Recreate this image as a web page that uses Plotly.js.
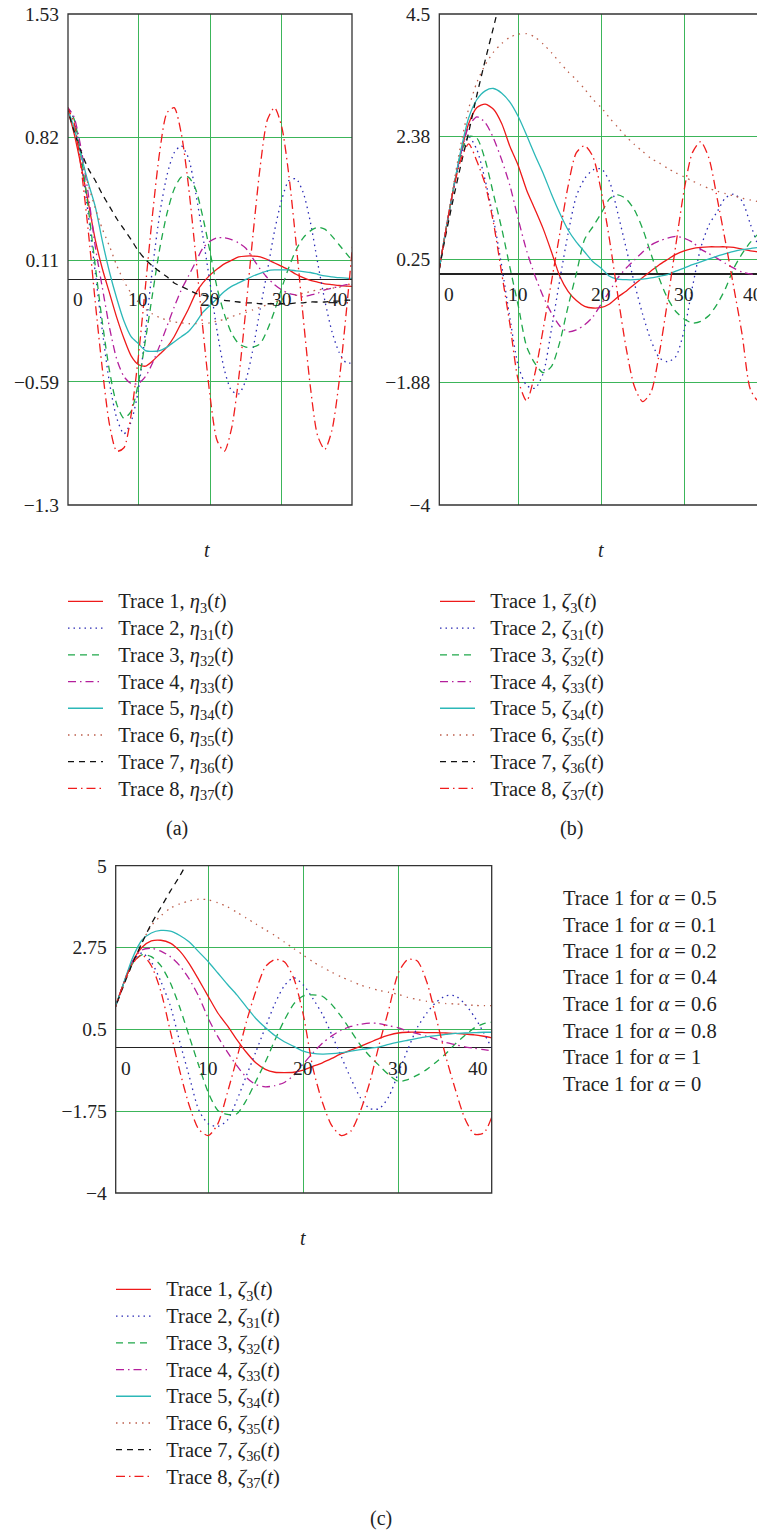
<!DOCTYPE html>
<html>
<head>
<meta charset="utf-8">
<script src="https://cdn.plot.ly/plotly-3.0.1.min.js"></script>
<style>
html,body{margin:0;padding:0;overflow:hidden;background:#fff;}
#chart{width:790px;height:1532px;}
</style>
</head>
<body>
<div id="chart"></div>
<script>
// time samples
const T = [0,1,2,3,4,5,6,7,8,9,10,11,12,13,14,15,16,17,18,19,20,21,22,23,24,25,26,27,28,29,30,31,32,33,34,35,36,37,38,39,40];

// subscripts used in the legends
const subs = ['3','31','32','33','34','35','36','37'];

// Panel (a): eta
const etaTrace1 = [1.0,0.85,0.66,0.45,0.23,0.06,-0.08,-0.22,-0.34,-0.44,-0.49,-0.50,-0.47,-0.43,-0.39,-0.33,-0.25,-0.17,-0.08,-0.02,0.025,0.06,0.09,0.11,0.13,0.135,0.135,0.13,0.115,0.095,0.075,0.055,0.03,0.01,-0.005,-0.015,-0.025,-0.03,-0.035,-0.038,-0.04];
const etaTrace2 = [1.0,0.93,0.70,0.38,0.04,-0.30,-0.60,-0.80,-0.89,-0.82,-0.64,-0.30,0.07,0.38,0.60,0.73,0.77,0.70,0.50,0.25,-0.02,-0.30,-0.52,-0.64,-0.66,-0.58,-0.40,-0.17,0.05,0.28,0.46,0.57,0.58,0.50,0.33,0.10,-0.12,-0.30,-0.42,-0.48,-0.48];
const etaTrace3 = [1.0,0.93,0.72,0.42,0.08,-0.25,-0.53,-0.72,-0.80,-0.76,-0.60,-0.35,-0.08,0.18,0.38,0.52,0.59,0.59,0.52,0.36,0.16,-0.05,-0.20,-0.31,-0.37,-0.39,-0.39,-0.37,-0.29,-0.18,-0.05,0.07,0.17,0.24,0.28,0.30,0.29,0.25,0.20,0.15,0.10];
const etaTrace4 = [1.0,0.94,0.76,0.50,0.19,-0.05,-0.28,-0.46,-0.56,-0.60,-0.60,-0.56,-0.48,-0.38,-0.27,-0.16,-0.06,0.02,0.10,0.18,0.22,0.24,0.24,0.23,0.21,0.18,0.12,0.06,0.01,-0.03,-0.06,-0.08,-0.09,-0.10,-0.09,-0.08,-0.06,-0.05,-0.04,-0.03,-0.03];
const etaTrace5 = [1.0,0.88,0.72,0.56,0.42,0.22,0.04,-0.11,-0.24,-0.33,-0.37,-0.41,-0.415,-0.41,-0.39,-0.36,-0.33,-0.30,-0.25,-0.19,-0.15,-0.11,-0.07,-0.04,-0.02,0.0,0.02,0.035,0.05,0.055,0.055,0.055,0.05,0.045,0.04,0.03,0.02,0.015,0.01,0.008,0.005];
const etaTrace6 = [1.0,0.86,0.70,0.55,0.41,0.29,0.19,0.08,-0.01,-0.08,-0.13,-0.17,-0.20,-0.22,-0.235,-0.245,-0.25,-0.255,-0.255,-0.255,-0.25,-0.24,-0.23,-0.215,-0.20,-0.19,-0.175,-0.16,-0.145,-0.13,-0.115,-0.10,-0.09,-0.08,-0.07,-0.06,-0.055,-0.05,-0.045,-0.04,-0.035];
const etaTrace7 = [1.0,0.86,0.74,0.64,0.57,0.49,0.42,0.35,0.29,0.23,0.165,0.115,0.077,0.045,0.015,-0.02,-0.04,-0.06,-0.08,-0.09,-0.10,-0.11,-0.12,-0.125,-0.13,-0.135,-0.135,-0.14,-0.14,-0.14,-0.14,-0.14,-0.135,-0.135,-0.13,-0.13,-0.13,-0.125,-0.125,-0.12,-0.12];
const etaTrace8 = [1.0,0.91,0.65,0.29,-0.13,-0.52,-0.84,-0.99,-0.97,-0.78,-0.45,-0.04,0.38,0.74,0.96,0.99,0.84,0.54,0.14,-0.28,-0.67,-0.93,-0.99,-0.86,-0.57,-0.17,0.26,0.65,0.92,0.99,0.88,0.60,0.21,-0.22,-0.62,-0.90,-0.98,-0.87,-0.59,-0.19,0.25];

// Panel (b): zeta
const zetaB1 = [-0.3,0.55,1.35,2.05,2.6,2.88,2.94,2.85,2.6,2.2,1.87,1.45,1.12,0.78,0.38,-0.04,-0.3,-0.46,-0.56,-0.59,-0.58,-0.52,-0.4,-0.3,-0.18,-0.06,0.05,0.16,0.25,0.34,0.4,0.44,0.46,0.47,0.47,0.47,0.46,0.43,0.4,0.38,0.36];
const zetaB2 = [-0.3,0.55,1.35,2.0,2.38,2.15,1.62,0.95,0.13,-0.78,-1.6,-1.93,-1.98,-1.72,-0.95,-0.1,0.7,1.35,1.65,1.8,1.82,1.6,1.05,0.45,-0.16,-0.7,-1.15,-1.45,-1.52,-1.43,-0.98,-0.23,0.45,0.85,1.08,1.32,1.38,1.26,0.86,0.45,0.0];
const zetaB3 = [-0.3,0.55,1.35,2.05,2.38,2.35,1.97,1.38,0.78,0.1,-0.56,-1.26,-1.55,-1.71,-1.6,-1.18,-0.56,0.01,0.6,0.82,1.05,1.3,1.37,1.3,1.11,0.78,0.35,-0.08,-0.42,-0.65,-0.78,-0.85,-0.82,-0.72,-0.52,-0.25,0.1,0.35,0.55,0.7,0.8];
const zetaB4 = [-0.3,0.55,1.35,2.05,2.55,2.72,2.62,2.35,1.97,1.52,0.94,0.4,-0.03,-0.39,-0.68,-0.9,-1.0,-0.97,-0.88,-0.74,-0.52,-0.3,-0.07,0.1,0.24,0.38,0.5,0.57,0.62,0.65,0.62,0.55,0.43,0.35,0.27,0.18,0.1,0.03,0.0,-0.03,-0.05];
const zetaB5 = [-0.3,0.55,1.35,2.1,2.7,3.02,3.17,3.21,3.13,2.97,2.72,2.4,2.06,1.74,1.38,1.05,0.76,0.55,0.38,0.21,0.1,-0.04,-0.09,-0.1,-0.1,-0.09,-0.07,-0.04,-0.01,0.05,0.1,0.16,0.21,0.26,0.31,0.35,0.39,0.42,0.44,0.46,0.47];
const zetaB6 = [-0.3,0.55,1.4,2.2,2.86,3.32,3.62,3.84,3.99,4.1,4.15,4.16,4.1,3.98,3.83,3.66,3.5,3.36,3.2,3.02,2.88,2.7,2.54,2.38,2.24,2.12,2.0,1.92,1.83,1.75,1.68,1.61,1.54,1.48,1.43,1.39,1.35,1.31,1.28,1.25,1.22];
const zetaB7 = [-0.3,0.5,1.2,1.85,2.45,3.1,3.7,4.27,4.85];
const zetaB8 = [-0.3,0.55,1.35,1.95,2.25,1.95,1.55,0.88,0.0,-0.89,-1.85,-2.2,-1.72,-0.95,-0.13,0.7,1.52,2.1,2.22,2.03,1.43,0.59,-0.37,-1.28,-1.95,-2.21,-2.05,-1.38,-0.47,0.5,1.45,2.1,2.29,2.0,1.3,0.55,-0.24,-1.05,-2.0,-2.2,-1.9];

// Panel (c): zeta
const zetaC1 = [0.95,1.7,2.35,2.75,2.93,2.95,2.87,2.65,2.3,1.86,1.4,0.95,0.6,0.22,-0.13,-0.42,-0.6,-0.68,-0.69,-0.68,-0.62,-0.52,-0.42,-0.3,-0.17,-0.07,0.03,0.14,0.25,0.34,0.4,0.42,0.42,0.41,0.41,0.4,0.39,0.37,0.35,0.31,0.26];
const zetaC2 = [0.95,1.7,2.35,2.6,2.35,1.82,1.15,0.15,-0.8,-1.72,-2.1,-2.17,-2.0,-1.45,-0.78,-0.12,0.55,1.2,1.7,1.92,1.72,1.35,0.92,0.35,-0.25,-0.85,-1.38,-1.68,-1.68,-1.35,-0.7,-0.05,0.55,0.95,1.25,1.42,1.42,1.2,0.85,0.4,-0.1];
const zetaC3 = [0.95,1.7,2.3,2.55,2.5,2.25,1.78,1.1,0.3,-0.5,-1.24,-1.73,-1.84,-1.82,-1.45,-0.93,-0.4,0.2,0.75,1.2,1.42,1.45,1.41,1.18,0.85,0.46,0.07,-0.24,-0.5,-0.75,-0.93,-0.88,-0.76,-0.6,-0.4,-0.17,0.1,0.33,0.54,0.66,0.7];
const zetaC4 = [0.95,1.7,2.35,2.68,2.73,2.65,2.5,2.25,1.88,1.4,0.8,0.3,-0.12,-0.5,-0.82,-1.02,-1.08,-1.05,-0.96,-0.76,-0.45,-0.15,0.12,0.32,0.48,0.58,0.64,0.67,0.66,0.6,0.54,0.45,0.38,0.31,0.23,0.14,0.08,0.02,-0.02,-0.06,-0.1];
const zetaC5 = [0.95,1.7,2.45,2.95,3.15,3.22,3.2,3.08,2.9,2.63,2.36,2.05,1.74,1.45,1.12,0.8,0.55,0.33,0.16,0.03,-0.1,-0.16,-0.18,-0.17,-0.14,-0.1,-0.06,-0.02,0.02,0.09,0.15,0.2,0.25,0.3,0.33,0.36,0.39,0.4,0.41,0.42,0.42];
const zetaC6 = [0.95,1.65,2.3,2.88,3.35,3.62,3.83,3.95,4.03,4.08,4.06,3.98,3.87,3.72,3.56,3.4,3.24,3.08,2.9,2.72,2.54,2.36,2.21,2.07,1.94,1.83,1.72,1.64,1.57,1.52,1.46,1.38,1.32,1.27,1.24,1.21,1.2,1.18,1.16,1.15,1.15];
const zetaC7 = [0.95,1.65,2.3,2.87,3.4,3.85,4.3,4.72,5.2];
const zetaC8 = [0.95,1.7,2.3,2.55,2.25,1.55,0.45,-0.65,-1.6,-2.25,-2.42,-2.1,-1.25,-0.3,0.7,1.55,2.22,2.42,2.36,1.9,0.9,-0.55,-1.5,-2.15,-2.42,-2.3,-1.75,-0.95,0.1,1.05,2.05,2.42,2.38,1.8,0.8,-0.25,-1.15,-1.95,-2.38,-2.35,-1.8];

// axis tick values / labels
const yTicksA = [1.53, 0.82, 0.11, -0.59, -1.3];
const yTicksB = [4.5, 2.38, 0.25, -1.88, -4];
const yTicksC = [5, 2.75, 0.5, -1.75, -4];
const xTickVals = [0, 10, 20, 30, 40];
const alphaValues = ['0.5','0.1','0.2','0.4','0.6','0.8','1','0'];

const W = 790, H = 1532;
const fx = px => px / W;
const fy = py => 1 - py / H;
const FONT = 'Liberation Serif, Times New Roman, serif';
const TXT = '#222';

const styles = [
  {color:'#ee1a1a', dash:'solid'},
  {color:'#2b2bb5', dash:'1.5px,4px'},
  {color:'#1fa84a', dash:'7px,5px'},
  {color:'#b41f9c', dash:'8px,4px,1.5px,4px'},
  {color:'#2cb8b8', dash:'solid'},
  {color:'#bd5f4c', dash:'1.5px,5px'},
  {color:'#111111', dash:'6px,5px'},
  {color:'#f01c1c', dash:'9px,4px,1.5px,4px'}
];

const panels = [
  {series:[etaTrace1,etaTrace2,etaTrace3,etaTrace4,etaTrace5,etaTrace6,etaTrace7,etaTrace8], sym:'η', x:'x', y:'y', legend:'legend'},
  {series:[zetaB1,zetaB2,zetaB3,zetaB4,zetaB5,zetaB6,zetaB7,zetaB8], sym:'ζ', x:'x2', y:'y2', legend:'legend2'},
  {series:[zetaC1,zetaC2,zetaC3,zetaC4,zetaC5,zetaC6,zetaC7,zetaC8], sym:'ζ', x:'x3', y:'y3', legend:'legend3'}
];

const data = [];
panels.forEach((p, pi) => {
  p.series.forEach((arr, i) => {
    data.push({
      x: T.slice(0, arr.length), y: arr,
      xaxis: p.x, yaxis: p.y, type: 'scatter', mode: 'lines',
      line: {color: styles[i].color, dash: styles[i].dash, width: 1.3, shape: 'spline', smoothing: 0.7},
      name: '<span style="font-size:20.5px">\u2002Trace ' + (i+1) + ', <i>' + p.sym + '</i><sub>' + subs[i] + '</sub>(<i>t</i>)</span>',
      legend: p.legend, hoverinfo: 'skip'
    });
  });
});

const fmt = v => (v < 0 ? '\u2212' + Math.abs(v) : String(v));
const GRID = '#3cb55a';

function xAxis(dom, range, anchor) {
  return {domain: dom, range: range, anchor: anchor, tickvals: [10,20,30], showticklabels: false,
    showgrid: true, gridcolor: GRID, gridwidth: 1, zeroline: false, showline: false, ticks: '', fixedrange: true};
}
function yAxis(dom, range, anchor, ticks) {
  return {domain: dom, range: range, anchor: anchor, tickvals: ticks, ticktext: ticks.map(fmt),
    showgrid: true, gridcolor: GRID, gridwidth: 1, zeroline: true, zerolinecolor: '#222', zerolinewidth: 1.3,
    showline: false, ticks: '', ticklabelstandoff: 8, tickfont: {family: FONT, size: 19.5, color: TXT}, fixedrange: true};
}

const xrA = [0.2, 39.8], xrB = [0.46, 40], xrC = [0.25, 39.83];

function legendAt(px, py) {
  return {x: fx(px), y: fy(py), xanchor: 'left', yanchor: 'top', itemwidth: 35, bgcolor: 'rgba(0,0,0,0)',
    font: {family: FONT, size: 18.25, color: TXT}, tracegroupgap: 0, itemclick: false, itemdoubleclick: false};
}

const layout = {
  width: W, height: H, margin: {l:0, r:0, t:0, b:0}, paper_bgcolor: '#fff', plot_bgcolor: '#fff',
  font: {family: FONT, size: 19, color: TXT},
  xaxis: xAxis([fx(68), fx(352)], xrA, 'y'),
  yaxis: yAxis([fy(505), fy(14)], [-1.3, 1.53], 'x', yTicksA),
  xaxis2: xAxis([fx(439.3), fx(767)], xrB, 'y2'),
  yaxis2: yAxis([fy(505), fy(14)], [-4, 4.5], 'x2', yTicksB),
  xaxis3: xAxis([fx(115.7), fx(491.7)], xrC, 'y3'),
  yaxis3: yAxis([fy(1193), fy(865.7)], [-4, 5], 'x3', yTicksC),
  shapes: ['', '2', '3'].map(s => ({type: 'rect', xref: 'x' + s + ' domain', yref: 'y' + s + ' domain',
    x0: 0, x1: 1, y0: 0, y1: 1, line: {color: '#333', width: 1.3}, layer: 'above'})),
  legend: legendAt(63, 583),
  legend2: legendAt(435, 583),
  legend3: legendAt(111, 1271),
  annotations: []
};

// x tick labels placed just below the zero line
[['x','y',xrA],['x2','y2',xrB],['x3','y3',xrC]].forEach(([xa, ya, xr]) => {
  xTickVals.forEach(v => {
    let xpos = v, anchor = 'center', shift = 0;
    if (v === 0) { xpos = xr[0]; anchor = 'left'; shift = 3; }
    if (v === 40) { xpos = xr[1]; anchor = 'right'; shift = -2; }
    layout.annotations.push({xref: xa, yref: ya, x: xpos, y: 0, text: String(v), showarrow: false,
      xanchor: anchor, yanchor: 'top', xshift: shift, yshift: -8, font: {family: FONT, size: 19.5, color: TXT}});
  });
});

// axis titles and captions
const texts = [
  ['<i>t</i>', 207, 550], ['<i>t</i>', 601, 550], ['<i>t</i>', 303, 1238],
  ['(a)', 177, 829], ['(b)', 571, 829], ['(c)', 381, 1518]
];
texts.forEach(([t, px, py]) => layout.annotations.push({xref: 'paper', yref: 'paper', x: fx(px), y: fy(py),
  text: t, showarrow: false, xanchor: 'center', yanchor: 'middle', font: {family: FONT, size: 20, color: TXT}}));

// alpha list beside panel (c)
alphaValues.forEach((a, i) => layout.annotations.push({xref: 'paper', yref: 'paper', x: fx(561), y: fy(898 + i * 26.5),
  text: 'Trace 1 for <i>α</i> = ' + a, showarrow: false, xanchor: 'left', yanchor: 'middle',
  font: {family: FONT, size: 20.5, color: TXT}}));

Plotly.newPlot('chart', data, layout, {displayModeBar: false, staticPlot: true});
</script>
</body>
</html>
